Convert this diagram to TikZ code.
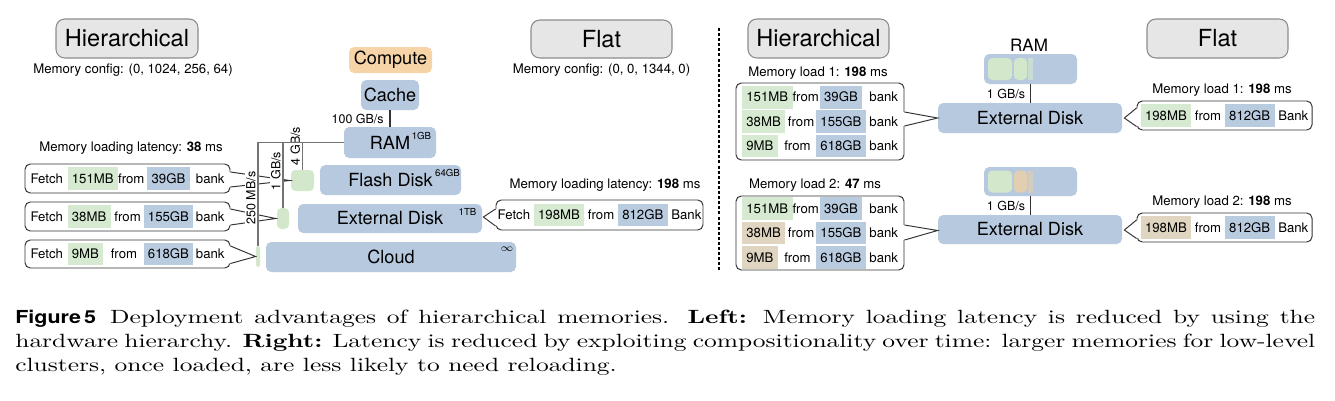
\documentclass[tikz,border=0pt]{standalone}
\usepackage{fontspec}
\newfontfamily\hv{TeX Gyre Heros}
\newfontfamily\figfont{TeX Gyre Heros}[FakeStretch=1.2]
\newfontfamily\capfont{lmroman10-regular.otf}[FakeStretch=1.33, BoldFont=lmroman10-bold.otf, Ligatures=TeX]
\usetikzlibrary{calc}
\definecolor{mblue}{HTML}{B7C9DE}
\definecolor{mgreen}{HTML}{D3E8CB}
\definecolor{mtan}{HTML}{E2CFB1}
\definecolor{morange}{HTML}{F6D4A8}
\definecolor{tgray}{HTML}{E6E6E6}
\definecolor{tborder}{HTML}{8C8C8C}
\definecolor{hlgreen}{HTML}{D5EAD0}
\definecolor{hlblue}{HTML}{B9CBDF}
\definecolor{hltan}{HTML}{DFD5C1}
\newlength\px \setlength\px{0.02cm}
\newcommand\hl[2]{{\setlength\fboxsep{0pt}\colorbox{#1}{\rule[-3.85pt]{0pt}{13pt}\hspace{2.5pt}#2\hspace{2.5pt}}}}
\newcommand\frow[3]{\makebox[37\px][l]{Fetch}\makebox[77\px][l]{\hl{#1}{#2}\hfill from\hfill}\makebox[48\px][c]{\hl{hlblue}{#3}}\makebox[32\px][r]{bank}}
\newcommand\hrow[3]{\makebox[75\px][l]{\hl{#1}{#2}\hfill from\hfill}\makebox[48\px][c]{\hl{hlblue}{#3}}\makebox[33\px][r]{bank}}
\newcommand\callptr[6]{%
  \fill[white] ($(#1.#2)+(#6,-#3)$) -- (#5) -- ($(#1.#2)+(#6,#4)$) -- cycle;
  \draw[cline] ($(#1.#2)+(0,-#3)$) -- (#5) -- ($(#1.#2)+(0,#4)$);}
\tikzset{
  wh/.style 2 args={minimum width=#1*0.02cm, minimum height=#2*0.02cm},
  ttl/.style={draw=tborder, fill=tgray, rounded corners=5pt, line width=0.6pt, inner sep=0, font=\hv\fontsize{13.4}{15}\selectfont},
  mem/.style={fill=mblue, rounded corners=3pt, inner sep=0, font=\hv\fontsize{10.3}{12}\selectfont},
  grn/.style={fill=mgreen, rounded corners=2.5pt, inner sep=0},
  sm/.style={font=\hv\fontsize{7.5}{9}\selectfont, inner sep=0},
  bw/.style={font=\hv\fontsize{7.1}{8}\selectfont, inner sep=0.8pt},
  sup/.style={font=\hv\fontsize{5.5}{6}\selectfont, inner sep=0},
  callbox/.style={draw=black!80, line width=0.55pt, fill=white, rounded corners=3pt, inner sep=0, font=\hv\fontsize{7.5}{13.9}\selectfont, align=left},
  cline/.style={draw=black!80, line width=0.55pt},
  gline/.style={draw=black!55, line width=0.8pt},
  thinline/.style={draw=black!80, line width=0.6pt},
  divider/.style={draw=black, line width=1.2pt, dash pattern=on 1.7pt off 1.2pt}
}
\begin{document}
\begin{tikzpicture}[x=0.02cm,y=-0.02cm]
\useasboundingbox (0,0) rectangle (1335,400);
\fill[white] (0,0) rectangle (1335,400);

% ---------- left: hierarchical ----------
\node[ttl, wh={142}{39}] (hL) at (127,38.5) {Hierarchical};
\node[sm] (cfgL) at (133,70) {Memory config: (0, 1024, 256, 64)};
\node[ttl, wh={141}{38}] (fL) at (601.5,39) {Flat};
\node[sm] (cfgF) at (601.5,70) {Memory config: (0, 0, 1344, 0)};

\node[mem, fill=morange, wh={83}{26}] (comp) at (390.5,60) {Compute};
\node[mem, wh={58}{30}] (cache) at (390,95) {Cache};
\node[mem, wh={92}{31}] (ram) at (390,142.5) {RAM};
\node[sup] (ramsz) at (421.5,135.5) {1GB};
\node[mem, wh={141}{30}] (flash) at (390.5,180) {Flash Disk};
\node[sup] (flsz) at (447.5,173) {64GB};
\node[mem, wh={184}{29}] (ext) at (390,218.5) {External Disk};
\node[sup] (exsz) at (467.5,211.5) {1TB};
\node[mem, wh={250}{30}] (cloud) at (391,257) {Cloud};
\node[inner sep=0, font=\fontsize{6.5}{7}\selectfont] (clsz) at (507,249) {$\infty$};

\node[grn, wh={23}{21}] (fgreen) at (302.5,180.5) {};
\node[grn, wh={12}{21}] (egreen) at (283,218.5) {};
\node[grn, wh={4}{21}, rounded corners=1pt] (cgreen) at (258,256.5) {};

\node[sm] (latL) at (131,148) {Memory loading latency: \textbf{38} ms};
\node[callbox, wh={205}{29}] (f1) at (127.5,178.5) {\frow{hlgreen}{151MB}{39GB}};
\node[callbox, wh={205}{29}] (f2) at (127.5,216.5) {\frow{hlgreen}{38MB}{155GB}};
\node[callbox, wh={205}{28}] (f3) at (127.5,254) {\frow{hlgreen}{9MB}{618GB}};

\coordinate (t1) at ($(fgreen.west)+(-1,0)$);
\coordinate (t2) at ($(egreen.west)+(-1,0)$);
\coordinate (t3) at ($(cgreen.west)+(0,0)$);
\callptr{f1}{east}{6.5}{8.5}{t1}{-1.5}
\callptr{f2}{east}{7.5}{8.5}{t2}{-1.5}
\callptr{f3}{east}{8}{9.5}{t3}{-1.5}

\node[bw, fill=white, rotate=90, anchor=south] (bw250) at (257.5,198) {250 MB/s};
\node[bw, fill=white, rotate=90, anchor=south] (bw1) at (282.5,171) {1 GB/s};
\node[bw, rotate=90, anchor=south] (bw4) at (302,146) {4 GB/s};

\draw[gline] (ram.west) -- (cgreen.north |- ram.west) -- (cgreen.north);
\draw[gline] (egreen.north |- ram.west) -- (egreen.north);
\draw[gline] (fgreen.north |- ram.west) -- (fgreen.north);
\draw[thinline] (cache.south) -- node[bw, left=2.5pt] (bw100) {100 GB/s} (ram.north);

% ---------- left: flat ----------
\node[sm] (latF) at (605,185) {Memory loading latency: \textbf{198} ms};
\node[callbox, wh={207}{30}] (fc) at (599.5,215) {Fetch \hl{hlgreen}{198MB} from \hl{hlblue}{812GB} Bank};
\coordinate (tL) at ($(ext.east)+(1,-1.5)$);
\callptr{fc}{west}{6}{11}{tL}{1.5}

% ---------- divider ----------
\coordinate (dv1) at (719,28);
\coordinate (dv2) at (719,272);
\draw[divider] (dv1) -- (dv2);

% ---------- right ----------
\node[ttl, wh={141}{39}] (hR) at (818.5,38.5) {Hierarchical};
\node[ttl, wh={141}{39}] (fR) at (1217.5,38.5) {Flat};
\node[inner sep=0, font=\hv\fontsize{9.7}{11}\selectfont] (ramlbl) at (1029,45) {RAM};

% load 1
\node[mem, wh={93}{30}] (ramR1) at (1030.5,69) {};
\node[grn, wh={24}{22}] (r1g1) at (1000,69) {};
\node[grn, wh={13}{22}] (r1g2) at (1020.5,69) {};
\node[fill=mgreen!65!mblue, inner sep=0, wh={5}{22}] (r1g3) at (1030,69) {};
\node[mem, wh={184}{30}] (extR1) at (1030,118) {External Disk};
\draw[thinline] (ramR1.south) -- node[bw, left=2pt] (bwr1) {1 GB/s} (ramR1.south |- extR1.north);

\node[sm] (ml1) at (818,73) {Memory load 1: \textbf{198} ms};
\node[callbox, wh={168}{77}] (h1) at (820,121.5) {\hrow{hlgreen}{151MB}{39GB}\\\hrow{hlgreen}{38MB}{155GB}\\\hrow{hlgreen}{9MB}{618GB}};
\coordinate (th1) at (extR1.west);
\callptr{h1}{east}{9.5}{4.5}{th1}{-1.5}

\node[sm] (mr1) at (1222,90) {Memory load 1: \textbf{198} ms};
\node[callbox, wh={175}{29}] (r1) at (1224.5,115.5) {\hl{hlgreen}{198MB} from \hl{hlblue}{812GB} Bank};
\coordinate (tr1) at ($(extR1.east)+(2,0)$);
\callptr{r1}{west}{7.5}{11}{tr1}{1.5}

% load 2
\node[mem, wh={93}{29}] (ramR2) at (1030.5,181.5) {};
\node[grn, wh={24}{22}] (r2g1) at (1000,181.5) {};
\node[grn, fill=mtan, wh={13}{22}] (r2g2) at (1020.5,181.5) {};
\node[fill=mtan!65!mblue, inner sep=0, wh={5}{22}] (r2g3) at (1030,181.5) {};
\node[mem, wh={184}{29}] (extR2) at (1030,229.5) {External Disk};
\draw[thinline] (ramR2.south) -- node[bw, left=2pt] (bwr2) {1 GB/s} (ramR2.south |- extR2.north);

\node[sm] (ml2) at (815,185) {Memory load 2: \textbf{47} ms};
\node[callbox, wh={168}{74}] (h2) at (820,233) {\hrow{hlgreen}{151MB}{39GB}\\\hrow{hltan}{38MB}{155GB}\\\hrow{hltan}{9MB}{618GB}};
\coordinate (th2) at ($(extR2.west)+(0,1)$);
\callptr{h2}{east}{8}{7}{th2}{-1.5}

\node[sm] (mr2) at (1222,202) {Memory load 2: \textbf{198} ms};
\node[callbox, wh={175}{29}] (r2) at (1224.5,227.5) {\hl{hltan}{198MB} from \hl{hlblue}{812GB} Bank};
\coordinate (tr2) at ($(extR2.east)+(2,0.5)$);
\callptr{r2}{west}{7.5}{11}{tr2}{1.5}

% ---------- caption ----------
\node[anchor=north west, inner sep=0, text width=739.8pt, align=justify, font=\capfont\fontsize{10.9}{13.6}\selectfont] (cap) at (15,309.4) {\noindent{\figfont\bfseries\fontsize{10.2}{13}\selectfont Figure\,5}\hspace{8pt}Deployment advantages of hierarchical memories. \textbf{Left:} Memory loading latency is reduced by using the\linebreak hardware hierarchy. \textbf{Right:} Latency is reduced by exploiting compositionality over time: larger memories for low-level\linebreak clusters, once loaded, are less likely to need reloading.};
\end{tikzpicture}
\end{document}
